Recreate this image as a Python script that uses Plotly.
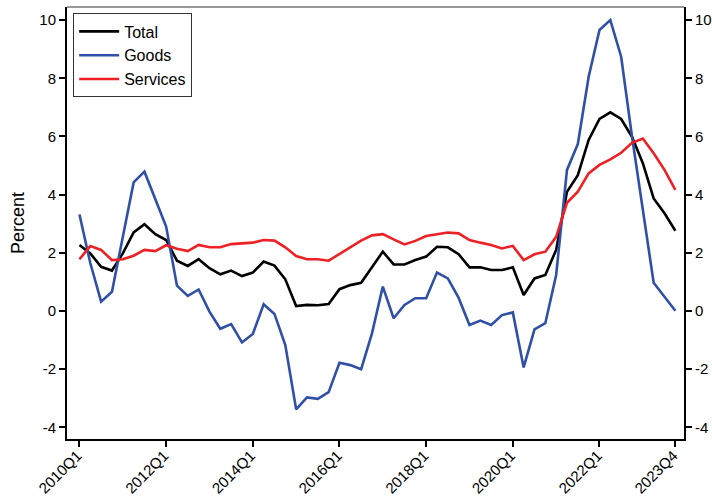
import plotly.graph_objects as go

quarters = [f"{y}Q{q}" for y in range(2010, 2024) for q in range(1, 5)]

total = [2.27, 1.98, 1.52, 1.39, 1.98, 2.70, 2.98, 2.64, 2.44, 1.73,
         1.55, 1.78, 1.47, 1.26, 1.39, 1.20, 1.32, 1.70, 1.56, 1.09,
         0.17, 0.21, 0.20, 0.24, 0.75, 0.89, 0.97, 1.52, 2.04, 1.60,
         1.60, 1.75, 1.87, 2.21, 2.19, 1.95, 1.50, 1.50, 1.41, 1.41,
         1.50, 0.55, 1.12, 1.24, 2.10, 4.10, 4.67, 5.88, 6.60, 6.83,
         6.60, 5.99, 5.08, 3.87, 3.36, 2.76]

goods = [3.32, 1.65, 0.32, 0.66, 2.54, 4.42, 4.79, 3.81, 2.90, 0.87,
         0.52, 0.74, -0.02, -0.61, -0.45, -1.08, -0.79, 0.23, -0.10, -1.17,
         -3.38, -2.97, -3.02, -2.79, -1.78, -1.86, -2.00, -0.77, 0.84, -0.25,
         0.21, 0.44, 0.44, 1.32, 1.12, 0.45, -0.48, -0.33, -0.48, -0.14,
         -0.05, -1.94, -0.63, -0.42, 1.24, 4.85, 5.74, 8.05, 9.66, 10.00,
         8.74, 6.00, 3.40, 0.97, 0.49, 0.01]

services = [1.78, 2.23, 2.10, 1.75, 1.78, 1.90, 2.10, 2.06, 2.26, 2.14,
            2.06, 2.27, 2.19, 2.19, 2.30, 2.33, 2.35, 2.44, 2.42, 2.19,
            1.89, 1.78, 1.78, 1.73, 1.96, 2.21, 2.42, 2.60, 2.64, 2.46,
            2.29, 2.41, 2.58, 2.64, 2.70, 2.67, 2.44, 2.35, 2.27, 2.15,
            2.24, 1.75, 1.95, 2.04, 2.55, 3.72, 4.10, 4.73, 5.02, 5.21,
            5.44, 5.78, 5.93, 5.42, 4.85, 4.16]

x_ticks = ["2010Q1", "2012Q1", "2014Q1", "2016Q1", "2018Q1", "2020Q1", "2022Q1", "2023Q4"]
y_ticks = [-4, -2, 0, 2, 4, 6, 8, 10]
y_tick_text = [str(v) for v in y_ticks]

font_family = "Liberation Sans, Arial, sans-serif"

fig = go.Figure()
fig.add_trace(go.Scatter(x=quarters, y=total, name="Total", mode="lines",
                         line=dict(color="#000000", width=2.6)))
fig.add_trace(go.Scatter(x=quarters, y=goods, name="Goods", mode="lines",
                         line=dict(color="#3050A8", width=2.6)))
fig.add_trace(go.Scatter(x=quarters, y=services, name="Services", mode="lines",
                         line=dict(color="#EE2024", width=2.6)))
# invisible trace to anchor the mirrored right axis
fig.add_trace(go.Scatter(x=quarters, y=total, yaxis="y2", mode="lines",
                         line=dict(width=0), opacity=0, showlegend=False,
                         hoverinfo="skip"))

yr = [-4.4, 10.45]
fig.update_layout(
    width=712, height=497,
    margin=dict(l=67, r=28, t=7, b=58, autoexpand=False),
    paper_bgcolor="white", plot_bgcolor="white",
    font=dict(family=font_family, size=15, color="#000000"),
    showlegend=True,
    legend=dict(x=0.01, y=0.985, xanchor="left", yanchor="top",
                bgcolor="white", bordercolor="#333333", borderwidth=1,
                font=dict(size=16), tracegroupgap=0, itemwidth=40),
    xaxis=dict(type="category", range=[-1.15, 55.8], automargin=False,
               tickmode="array", tickvals=x_ticks, ticktext=x_ticks,
               tickangle=-45, ticks="outside", ticklen=6, tickwidth=2,
               ticklabelstandoff=-6, ticklabelshift=-2,
               tickcolor="#000", showline=True, linecolor="#000", linewidth=2,
               showgrid=False, zeroline=False, tickfont=dict(size=15)),
    yaxis=dict(range=yr, tickmode="array", tickvals=y_ticks, ticktext=y_tick_text,
               ticks="outside", ticklen=6,
               tickwidth=2, tickcolor="#000", showline=True, linecolor="#000",
               linewidth=2, showgrid=False, zeroline=False, automargin=False,
               title=dict(text="Percent", font=dict(size=18), standoff=10),
               tickfont=dict(size=15)),
    yaxis2=dict(range=yr, tickmode="array", tickvals=y_ticks, ticktext=y_tick_text,
                overlaying="y", side="right",
                ticks="outside", ticklen=6, tickwidth=2, tickcolor="#000",
                showline=True, linecolor="#000", linewidth=2, showgrid=False,
                zeroline=False, automargin=False, tickfont=dict(size=15)),
    shapes=[dict(type="line", xref="paper", yref="paper", x0=0, x1=1, y0=1, y1=1,
                 line=dict(color="#777777", width=1.5))],
)

fig.write_html("out.html", config={"displayModeBar": False},
               post_script="document.body.style.margin='0';document.body.style.overflow='hidden';")
